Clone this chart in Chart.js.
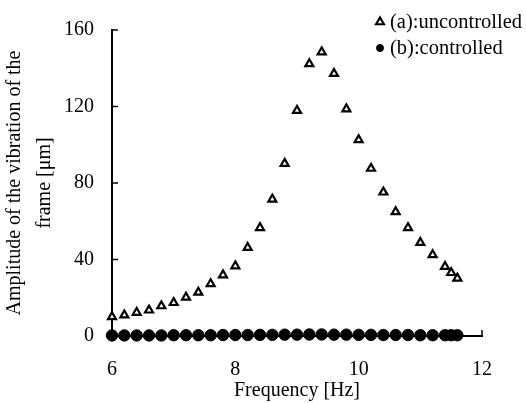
<!DOCTYPE html>
<html>
<head>
<meta charset="utf-8">
<script src="https://cdn.jsdelivr.net/npm/chart.js@4.4.1/dist/chart.umd.min.js"></script>
<style>
  html, body { margin: 0; padding: 0; background: #fff; }
  #wrap { width: 526px; height: 403px; position: relative; }
</style>
</head>
<body>
<div id="wrap"><canvas id="chart"></canvas></div>
<script>
// frequency steps [Hz]
const freq = [6.0, 6.2, 6.4, 6.6, 6.8, 7.0, 7.2, 7.4, 7.6, 7.8, 8.0, 8.2, 8.4, 8.6, 8.8,
  9.0, 9.2, 9.4, 9.6, 9.8, 10.0, 10.2, 10.4, 10.6, 10.8, 11.0, 11.2, 11.4, 11.5, 11.6];
// amplitude [um]
const uncontrolled = [10, 10.9, 12.3, 13.5, 15.7, 17.4, 20.2, 22.8, 27.3, 31.9, 36.6, 46.2, 56.6, 71.5, 90.2,
  117.9, 142.3, 148.5, 137.2, 118.7, 102.6, 87.6, 75.2, 64.9, 56.6, 48.8, 42.4, 36.3, 33.1, 30.2];
const controlled = [0.3, 0.3, 0.3, 0.3, 0.3, 0.4, 0.4, 0.4, 0.4, 0.5, 0.5, 0.5, 0.6, 0.6, 0.7,
  0.7, 0.8, 0.8, 0.7, 0.7, 0.6, 0.6, 0.5, 0.5, 0.5, 0.4, 0.4, 0.4, 0.4, 0.4];
const xTicks = [6, 8, 10, 12];
const yTicks = [0, 40, 80, 120, 160];

const FONT = "'Liberation Serif', 'DejaVu Serif', serif";
const toPts = (ys) => freq.map((x, i) => ({ x, y: ys[i] }));

// short tick marks pointing into the plot, like the original
const inwardTicks = {
  id: "inwardTicks",
  afterDraw(chart) {
    const { ctx, chartArea: a, scales: { x, y } } = chart;
    ctx.save();
    ctx.strokeStyle = "#000"; ctx.lineWidth = 1.5;
    ctx.beginPath();
    xTicks.slice(1).forEach((v) => { const px = x.getPixelForValue(v); ctx.moveTo(px, a.bottom); ctx.lineTo(px, a.bottom - 6); });
    yTicks.slice(1).forEach((v) => { const py = y.getPixelForValue(v); ctx.moveTo(a.left, py); ctx.lineTo(a.left + 6, py); });
    ctx.stroke();
    ctx.restore();
  }
};

// legend stacked in the top right corner
const legendMarkers = [4.5, 3.5];
const cornerLegend = {
  id: "cornerLegend",
  afterDraw(chart) {
    const { ctx } = chart;
    ctx.save();
    ctx.font = `20.5px ${FONT}`;
    ctx.textBaseline = "middle"; ctx.textAlign = "left";
    chart.data.datasets.forEach((ds, i) => {
      const cy = 22 + i * 26;
      ctx.strokeStyle = ds.borderColor; ctx.fillStyle = ds.backgroundColor; ctx.lineWidth = ds.borderWidth;
      Chart.helpers.drawPoint(ctx, { pointStyle: ds.pointStyle, radius: legendMarkers[i], borderWidth: ds.borderWidth, rotation: 0 }, 380, cy);
      ctx.fillStyle = "#000";
      ctx.fillText(ds.label, 390, cy + 1);
    });
    ctx.restore();
  }
};

new Chart(document.getElementById("chart"), {
  type: "scatter",
  data: {
    datasets: [
      { label: "(a):uncontrolled", data: toPts(uncontrolled), pointStyle: "triangle", pointRadius: 4.6, borderWidth: 2.2,
        borderColor: "#000", backgroundColor: "#fff", clip: false },
      { label: "(b):controlled", data: toPts(controlled), pointStyle: "circle", pointRadius: 5.7, borderWidth: 1,
        borderColor: "#000", backgroundColor: "#000", clip: false }
    ]
  },
  options: {
    responsive: true,
    maintainAspectRatio: false,
    animation: false,
    layout: { padding: { top: 27, right: 44, left: 0, bottom: 0 } },
    plugins: { legend: { display: false }, tooltip: { enabled: false } },
    scales: {
      x: {
        type: "linear", min: 6, max: 12,
        afterFit: (s) => { s.height = 67; },
        afterBuildTicks: (s) => { s.ticks = xTicks.map((v) => ({ value: v })); },
        grid: { display: false, drawTicks: false },
        border: { display: true, color: "#000", width: 2 },
        ticks: { color: "#000", padding: 22, font: { family: FONT, size: 20 } },
        title: { display: true, text: "Frequency [Hz]", color: "#000", padding: { top: 0, bottom: 0 }, font: { family: FONT, size: 20, lineHeight: 1.2 } }
      },
      y: {
        type: "linear", min: 0, max: 160,
        afterFit: (s) => { s.width = 112; },
        afterBuildTicks: (s) => { s.ticks = yTicks.map((v) => ({ value: v })); },
        grid: { display: false, drawTicks: false },
        border: { display: true, color: "#000", width: 2 },
        ticks: { color: "#000", padding: 18, font: { family: FONT, size: 20 } },
        title: { display: true, text: ["Amplitude of the vibration of the", "frame [\u03bcm]"], color: "#000",
          padding: { top: 0, bottom: 0 }, font: { family: FONT, size: 20, lineHeight: 1.5 } }
      }
    }
  },
  plugins: [inwardTicks, cornerLegend]
});
</script>
</body>
</html>
